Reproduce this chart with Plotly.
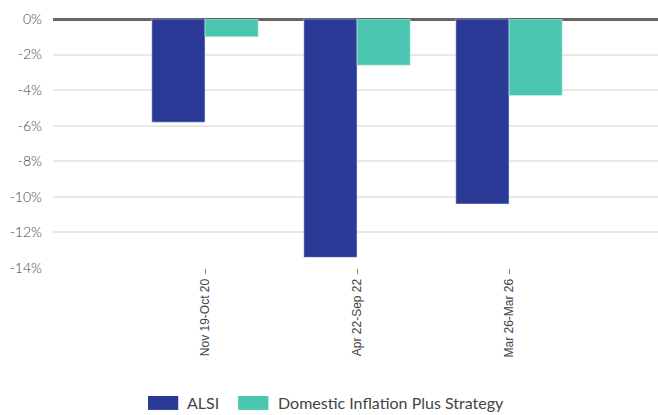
import plotly.graph_objects as go

categories = ["Nov 19-Oct 20", "Apr 22-Sep 22", "Mar 26-Mar 26"]
alsi = [-5.8, -13.4, -10.4]
domestic = [-1.0, -2.6, -4.3]
series_names = ["ALSI", "Domestic Inflation Plus Strategy"]
series_colors = ["#2b3a96", "#4bc7b1"]
y_ticks = [0, -2, -4, -6, -8, -10, -12, -14]
y_tick_labels = ["0%", "-2%", "-4%", "-6%", "-8%", "-10%", "-12%", "-14%"]

fig = go.Figure()
fig.add_trace(go.Bar(name=series_names[0], x=categories, y=alsi, marker_color=series_colors[0],
                     showlegend=False))
fig.add_trace(go.Bar(name=series_names[1], x=categories, y=domestic,
                     marker_color=series_colors[1], showlegend=False))

# custom legend with wide swatches (paper coordinates)
legend_items = [(0.157, 0.207, 0.219), (0.306, 0.356, 0.368)]
for (x0, x1, xt), name, color in zip(legend_items, series_names, series_colors):
    fig.add_shape(type="rect", xref="paper", yref="paper", x0=x0, x1=x1,
                  y0=-0.570, y1=-0.514, fillcolor=color, line=dict(width=0))
    fig.add_annotation(xref="paper", yref="paper", x=xt, y=-0.542, text=name,
                       showarrow=False, xanchor="left", yanchor="middle",
                       font=dict(family="Lato", size=16, color="#444"))

fig.update_layout(
    width=658, height=415,
    barmode="group", bargap=0.3, bargroupgap=0,
    plot_bgcolor="white", paper_bgcolor="white",
    margin=dict(l=53, r=0, t=19, b=147),
    showlegend=False,
    xaxis=dict(range=[-1, 2.98], tickangle=-90, ticks="outside", ticklen=5,
               tickcolor="#888", showgrid=False, automargin=False,
               tickfont=dict(family="Liberation Sans", size=12, color="#444")),
    yaxis=dict(range=[-14, 0], tickvals=y_ticks, ticktext=y_tick_labels,
               gridcolor="#ebe8e3", gridwidth=2, automargin=False,
               zeroline=True, zerolinecolor="#666", zerolinewidth=2.5,
               ticks="", ticklabelstandoff=10,
               tickfont=dict(family="Lato", size=14, color="#444", weight=300)),
)

fig.write_html("out.html", config={"displayModeBar": False},
               post_script="document.body.style.margin='0';document.body.style.overflow='hidden';")
